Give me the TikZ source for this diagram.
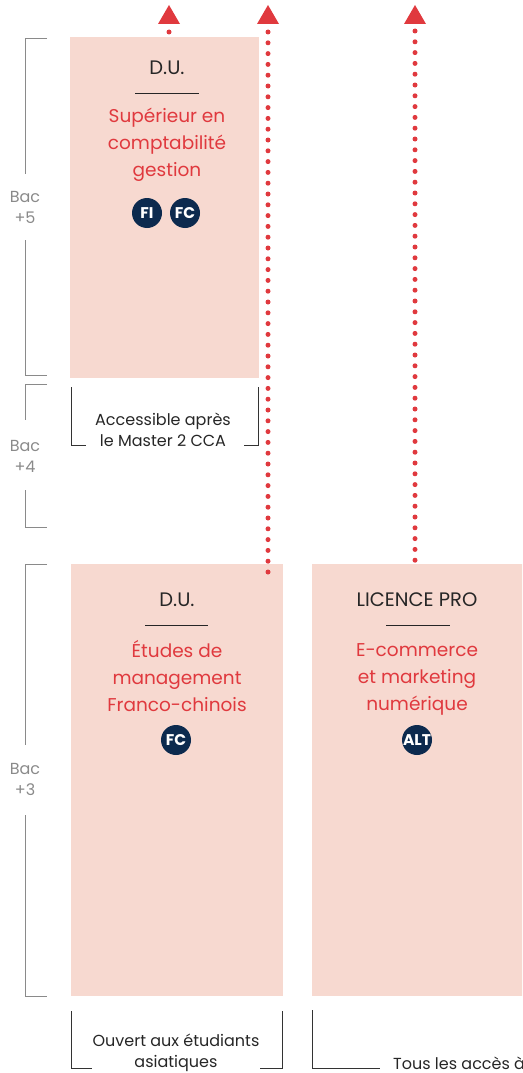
\documentclass[tikz,border=0pt]{standalone}
\usepackage{fontspec}
\setmainfont{Poppins}
\definecolor{boxfill}{HTML}{F7D9D0}
\definecolor{accred}{HTML}{E0393E}
\definecolor{navy}{HTML}{0C2A4E}
\definecolor{bacgray}{HTML}{8A8A8A}
\definecolor{notedark}{HTML}{333333}
\begin{document}
\begin{tikzpicture}[x=1pt,y=-1pt,
  box/.style={fill=boxfill,inner sep=0pt,anchor=north west},
  title/.style={font=\fontsize{19.5}{22}\selectfont,text=black!85,inner sep=0pt},
  sub/.style={font=\fontsize{18.5}{27}\selectfont,text=accred,align=center,inner sep=0pt},
  badge/.style={circle,fill=navy,minimum size=30pt,inner sep=0pt,text=white,font=\bfseries\fontsize{15.5}{16}\selectfont},
  bac/.style={font=\fontsize{16}{21}\selectfont,text=bacgray,align=center,inner sep=0pt},
  note/.style={font=\fontsize{16}{21}\selectfont,text=black!85,align=center,inner sep=0pt},
  bacline/.style={draw=bacgray,line width=1pt},
  noteline/.style={draw=notedark,line width=1pt},
  dotline/.style={draw=accred,line width=5pt,line cap=round,dash pattern=on 0pt off 10.8pt},
  tip/.style={fill=accred}]
\useasboundingbox (0,0) rectangle (522,1073);
\clip (0,0) rectangle (522,1073);

% boxes
\node[box,minimum width=189pt,minimum height=341pt] (b1) at (70,37) {};
\node[box,minimum width=212pt,minimum height=432pt] (b2) at (71,564) {};
\node[box,minimum width=230pt,minimum height=432pt] (b3) at (312,564) {};

% box 1 content
\node[title] (t1) at (167,68) {D.U.};
\draw[line width=1pt,black!85] (135,93) -- (199,93);
\node[sub] (s1) at (167,145) {Supérieur en\\comptabilité\\gestion};
\node[badge] (fi1) at (147,213) {FI};
\node[badge] (fc1) at (185,213) {FC};

% box 2 content
\node[title] (t2) at (177,600) {D.U.};
\draw[line width=1pt,black!85] (145,625) -- (208,625);
\node[sub] (s2) at (177,676) {Études de\\management\\Franco-chinois};
\node[badge] (fc2) at (176,740) {FC};

% box 3 content
\node[title] (t3) at (417,600) {LICENCE PRO};
\draw[line width=1pt,black!85] (386,625) -- (450,625);
\node[sub] (s3) at (417,679) {E-commerce\\et marketing\\numérique};
\node[badge] (alt3) at (417,740) {ALT};

% arrows
\coordinate (a1top) at (169,32);
\coordinate (a1end) at (169,42);
\draw[dotline] (a1top) -- (a1end);
\fill[tip] (158,24) -- (180,24) -- (169,5) -- cycle;

\coordinate (a2top) at (268,32);
\coordinate (a2end) at (268,572);
\draw[dotline] (a2top) -- (a2end);
\fill[tip] (257,24) -- (279,24) -- (268,5) -- cycle;

\coordinate (a3top) at (415,31);
\coordinate (a3end) at (415,570);
\draw[dotline] (a3top) -- (a3end);
\fill[tip] (404,24) -- (426,24) -- (415,5) -- cycle;

% Bac brackets
\draw[bacline] (47,39) -- (25,39) -- (25,174);
\draw[bacline] (25,240) -- (25,375) -- (47,375);
\node[bac] (bac5) at (25,207) {Bac\\+5};

\draw[bacline] (47,384) -- (25,384) -- (25,420);
\draw[bacline] (25,490) -- (25,527) -- (47,527);
\node[bac] (bac4) at (25,456) {Bac\\+4};

\draw[bacline] (47,564) -- (25,564) -- (25,745);
\draw[bacline] (25,815) -- (25,996) -- (47,996);
\node[bac] (bac3) at (25,779) {Bac\\+3};

% notes
\draw[noteline] (71,387) -- (71,445) -- (86,445);
\draw[noteline] (258,387) -- (258,445) -- (244,445);
\node[note] (n1) at (163,430) {Accessible après\\le Master 2 CCA};

\draw[noteline] (71,1011) -- (71,1068) -- (92,1068);
\draw[noteline] (282,1011) -- (282,1068) -- (260,1068);
\node[note] (n2) at (176,1053) {Ouvert aux étudiants\\asiatiques};

\draw[noteline] (312,1010) -- (312,1068) -- (380,1068);
\node[note,anchor=west] (n3) at (393,1063) {Tous les accès à};
\end{tikzpicture}
\end{document}
